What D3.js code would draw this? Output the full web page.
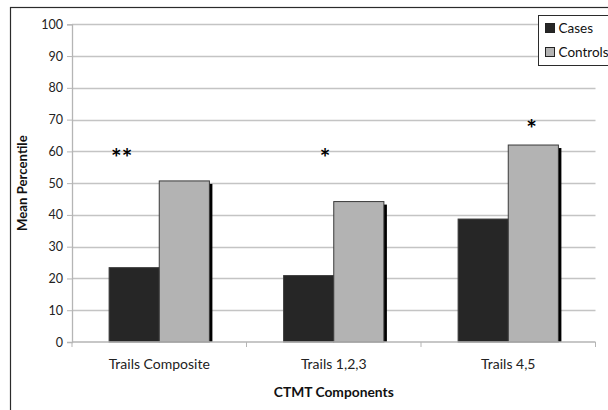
<!DOCTYPE html>
<html><head><meta charset="utf-8">
<script src="https://cdn.jsdelivr.net/npm/d3@7"></script>
<style>body{margin:0;background:#fff}svg{display:block}text{font-family:Lato,"Open Sans",sans-serif}</style>
</head><body><svg id="c" width="608" height="410"></svg>
<script>
const categories = ["Trails Composite", "Trails 1,2,3", "Trails 4,5"];
const seriesNames = ["Cases", "Controls"];
const cases = [23.4, 20.9, 38.7];
const controls = [50.7, 44.2, 62.0];
const yTicks = [0,10,20,30,40,50,60,70,80,90,100];
const annotations = [
  {category: "Trails Composite", label: "**", y: 59.6, shift: -0.215},
  {category: "Trails 1,2,3", label: "*", y: 59.6, shift: -0.05},
  {category: "Trails 4,5", label: "*", y: 68.7, shift: 0.134}
];
const colors = ["#262626", "#b3b3b3"];

const svg = d3.select("#c");
const m = {l:72, r:595.5, t:24.3, b:342};
svg.append("rect").attr("x",10.5).attr("y",7.5).attr("width",620).attr("height",420)
  .attr("fill","none").attr("stroke","#2b2b2b").attr("stroke-width",1.2);

const x = d3.scaleBand().domain(categories).range([m.l, m.r]);
const x1 = d3.scaleBand().domain(seriesNames).range([0, x.bandwidth()]).paddingOuter(0.74).paddingInner(0);
const y = d3.scaleLinear().domain([0,100]).range([m.b, m.t]);

// gridlines
svg.append("g").selectAll("line").data(yTicks.filter(d=>d>0)).join("line")
  .attr("x1",m.l).attr("x2",m.r).attr("y1",d=>Math.round(y(d))+0.5).attr("y2",d=>Math.round(y(d))+0.5)
  .attr("stroke","#c4c4c4").attr("stroke-width",1.3);

// y axis
const ya = svg.append("g").attr("transform",`translate(${m.l},0)`)
  .call(d3.axisLeft(y).tickValues(yTicks).tickSize(5).tickPadding(4));
ya.select(".domain").attr("stroke","#b5b5b5").attr("stroke-width",1.3);
ya.selectAll(".tick line").attr("stroke","#b5b5b5");
ya.selectAll("text").attr("font-size",12.5).attr("fill","#222");

// bars
const data = categories.map((c,i)=>({c, vals:[{s:"Cases",v:cases[i]},{s:"Controls",v:controls[i]}]}));
const g = svg.append("g").selectAll("g").data(data).join("g")
  .attr("transform",d=>`translate(${x(d.c)},0)`);
// shadows
g.selectAll("rect.sh").data(d=>d.vals).join("rect").attr("class","sh")
  .attr("x",d=>x1(d.s)+3).attr("y",d=>y(d.v)+3).attr("width",x1.bandwidth())
  .attr("height",d=>m.b-y(d.v)-3).attr("fill","#000");
g.selectAll("rect.bar").data(d=>d.vals).join("rect").attr("class","bar")
  .attr("x",d=>x1(d.s)).attr("y",d=>y(d.v)).attr("width",x1.bandwidth())
  .attr("height",d=>m.b-y(d.v)).attr("fill",(d,i)=>colors[i])
  .attr("stroke","#3a3a3a").attr("stroke-width",1);

// x axis
const xa = svg.append("g").attr("transform",`translate(0,${m.b})`);
xa.append("line").attr("x1",m.l).attr("x2",m.r).attr("stroke","#b5b5b5").attr("stroke-width",1.3);
const bounds = [m.l, ...categories.map(c=>x(c)+x.bandwidth())];
xa.selectAll("line.tk").data(bounds).join("line").attr("class","tk")
  .attr("x1",d=>d).attr("x2",d=>d).attr("y1",0).attr("y2",5).attr("stroke","#b5b5b5");
xa.selectAll("text").data(categories).join("text")
  .attr("x",d=>x(d)+x.bandwidth()/2).attr("y",27).attr("text-anchor","middle")
  .attr("font-size",14).attr("fill","#222").text(d=>d);

// annotations
svg.append("g").selectAll("text").data(annotations).join("text")
  .attr("x",d=>x(d.category)+x.bandwidth()*(0.5+d.shift)).attr("y",d=>y(d.y)+14)
  .attr("text-anchor","middle").attr("font-family","DejaVu Sans").attr("font-size",25)
  .attr("font-weight","bold").attr("fill","#000").text(d=>d.label);

// axis titles
svg.append("text").attr("x",(m.l+m.r)/2).attr("y",397).attr("text-anchor","middle")
  .attr("font-size",13.8).attr("font-weight","bold").attr("fill","#111").text("CTMT Components");
svg.append("text").attr("transform",`translate(27,${(m.t+m.b)/2}) rotate(-90)`).attr("text-anchor","middle")
  .attr("font-size",13.2).attr("font-weight","bold").attr("fill","#111").text("Mean Percentile");

// legend
const lg = svg.append("g").attr("transform","translate(538.5,15.5)");
lg.append("rect").attr("width",90).attr("height",50).attr("fill","#fff").attr("stroke","#2b2b2b").attr("stroke-width",1);
const li = lg.selectAll("g").data(seriesNames).join("g").attr("transform",(d,i)=>`translate(7,${12.5+i*24})`);
li.append("rect").attr("x",0).attr("y",-4.5).attr("width",9).attr("height",9)
  .attr("fill",(d,i)=>colors[i]).attr("stroke","#222");
li.append("text").attr("x",13).attr("y",5).attr("font-size",13.5).attr("fill","#111").text(d=>d);
</script></body></html>
